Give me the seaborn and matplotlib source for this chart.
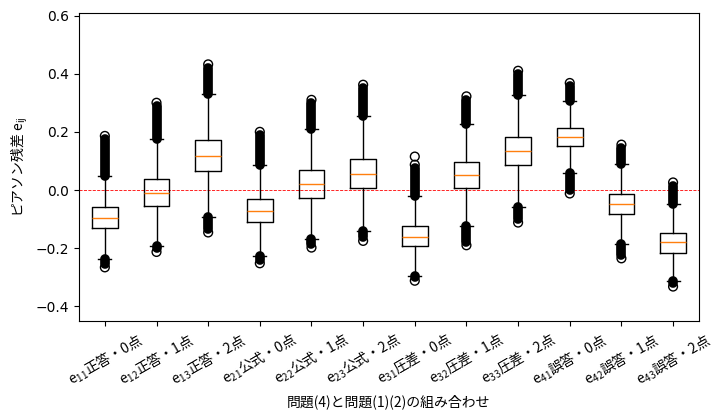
import numpy as np
import matplotlib.pyplot as plt
import seaborn as sns

plt.rcParams['font.family'] = ['Noto Sans CJK JP', 'DejaVu Sans']

# カテゴリ（問題(4)と問題(1)(2)の組み合わせ）
labels = [
    r'$\mathregular{e_{11}}$正答・0点', r'$\mathregular{e_{12}}$正答・1点', r'$\mathregular{e_{13}}$正答・2点',
    r'$\mathregular{e_{21}}$公式・0点', r'$\mathregular{e_{22}}$公式・1点', r'$\mathregular{e_{23}}$公式・2点',
    r'$\mathregular{e_{31}}$圧差・0点', r'$\mathregular{e_{32}}$圧差・1点', r'$\mathregular{e_{33}}$圧差・2点',
    r'$\mathregular{e_{41}}$誤答・0点', r'$\mathregular{e_{42}}$誤答・1点', r'$\mathregular{e_{43}}$誤答・2点',
]

# 箱ひげ図の統計量
q1 = [-0.131, -0.055, 0.066, -0.110, -0.028, 0.007, -0.193, 0.007, 0.086, 0.152, -0.083, -0.215]
med = [-0.096, -0.010, 0.118, -0.072, 0.021, 0.056, -0.162, 0.052, 0.134, 0.183, -0.047, -0.178]
q3 = [-0.059, 0.038, 0.172, -0.031, 0.068, 0.106, -0.124, 0.095, 0.183, 0.214, -0.014, -0.148]
whis_lo = [-0.238, -0.193, -0.092, -0.228, -0.170, -0.142, -0.296, -0.125, -0.058, 0.060, -0.186, -0.314]
whis_hi = [0.049, 0.175, 0.330, 0.087, 0.210, 0.254, -0.021, 0.226, 0.328, 0.306, 0.089, -0.048]

# 外れ値（密集帯の端）
out_lo = [-0.266, -0.213, -0.146, -0.252, -0.198, -0.175, -0.312, -0.190, -0.112, -0.012, -0.235, -0.332]
out_hi = [0.186, 0.300, 0.432, 0.200, 0.310, 0.362, 0.087, 0.322, 0.410, 0.368, 0.156, 0.026]

# 孤立した外れ値
extra_pos = [7]
extra_val = [0.115]

pos = np.arange(1, len(labels) + 1)

fig = plt.figure(figsize=(7.25, 4.2), dpi=100)
ax = fig.add_axes([0.109, 0.236, 0.855, 0.734])

stats = []
for i in range(len(labels)):
    stats.append(dict(med=med[i], q1=q1[i], q3=q3[i], whislo=whis_lo[i],
                      whishi=whis_hi[i], fliers=[], label=labels[i]))
ax.bxp(stats, positions=pos, showfliers=False, widths=0.5)

# 外れ値の密集帯（無数の○が重なって黒く見える部分）
gap = 0.012
ax.vlines(pos, whis_hi, np.array(out_hi) - gap, colors='black', linewidth=7, capstyle='round', zorder=3)
ax.vlines(pos, whis_lo, np.array(out_lo) + gap, colors='black', linewidth=7, capstyle='round', zorder=3)

# 端の外れ値の○
fx = np.concatenate([pos, pos, extra_pos])
fy = np.concatenate([out_lo, out_hi, extra_val])
sns.scatterplot(x=fx, y=fy, marker='o', s=40, color='none', edgecolor='black',
                linewidth=1, ax=ax, zorder=4)
for c in ax.collections[-1:]:
    c.set_facecolor('none')
    c.set_edgecolor('black')

ax.axhline(0, color='red', linestyle='--', linewidth=0.6, zorder=1)

ax.set_xlim(0.5, len(labels) + 0.5)
ax.set_ylim(-0.45, 0.61)
ax.set_yticks([-0.4, -0.2, 0.0, 0.2, 0.4, 0.6])
for t in ax.get_yticklabels():
    t.set_fontfamily('DejaVu Sans')
ax.set_xticks(pos)
ax.set_xticklabels(labels, rotation=30)
ax.set_ylabel(r'ピアソン残差 $\mathregular{e_{ij}}$')
ax.set_xlabel('問題(4)と問題(1)(2)の組み合わせ')

fig.savefig('out.png', dpi=100)
